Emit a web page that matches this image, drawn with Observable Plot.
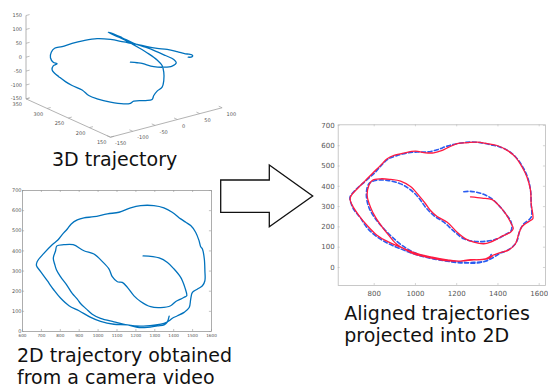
<!DOCTYPE html>
<html><head><meta charset="utf-8">
<script src="https://cdn.jsdelivr.net/npm/d3@7"></script>
<script src="https://cdn.jsdelivr.net/npm/@observablehq/plot@0.6"></script>
<style>
body{margin:0;background:#fff;}
#wrap{position:relative;width:548px;height:390px;overflow:hidden;font-family:"DejaVu Sans",sans-serif;}
.panel{position:absolute;}
.cap{position:absolute;font-size:19px;line-height:22px;color:#111;white-space:nowrap;font-family:"DejaVu Sans",sans-serif;}
</style></head><body><div id="wrap"></div>
<script>
// ---------- Panel 1: 3D trajectory (projected view units; v aligned with z axis units)
const traj3dU = [584,597,600,586,574,544,508,472,436,400,352,304,256,208,166,130,103,91,88,98,112,98,94,103,118,142,166,202,226,256,304,352,376,388,430,454,460,472,490,496,496,490,472,442,406,370,334,296,310,346,388,430,466,502,532,541,526,496,460,430,418,400,376];
const traj3dV = [0,1,6,11,12,20,28,32,38,46,55,64,67,60,50,38,32,18,-2,-18,-24,-31,-46,-58,-70,-88,-102,-118,-138,-150,-162,-168,-166,-158,-156,-152,-138,-122,-108,-84,-54,-30,-10,12,34,54,72,90,86,70,50,36,22,6,-8,-20,-32,-36,-34,-26,-22,-20,-18];
const axis3dXTicks = [-150,-100,-50,0,50,100];
const axis3dYTicks = [150,200,250,300,350];
const axis3dZTicks = [-150,-100,-50,0,50,100,150];

// ---------- Panel 2: 2D trajectory from camera video
const cameraX = [1376,1365,1349,1314,1261,1208,1155,1084,1013,961,899,846,801,766,731,695,674,678,713,757,787,810,837,858,890,925,978,1049,1111,1172,1225,1295,1348,1392,1437,1464,1490,1516,1534,1543,1552,1562,1565,1565,1552,1526,1499,1490,1482,1455,1420,1393,1376,1349,1296,1225,1155,1084,1013,969,939,907,890,863,837,801,780,770,763,775,782,819,868,925,978,1022,1058,1075,1102,1128,1155,1190,1225,1278,1331,1384,1411,1437,1459,1469,1459,1446,1437,1402,1367,1323,1238];
const cameraY = [76,45,33,28,20,20,33,36,50,70,103,128,166,206,252,299,327,348,388,431,454,481,509,534,554,564,570,584,592,614,625,625,614,592,559,542,526,493,451,421,410,360,302,252,227,211,194,161,119,95,78,66,53,40,32,27,33,48,65,86,111,139,161,189,227,272,305,335,365,401,425,431,431,401,385,348,310,272,247,244,219,177,149,123,119,128,149,161,172,177,219,252,269,310,343,365,375];
const cameraXTicks = [600,700,800,900,1000,1100,1200,1300,1400,1500,1600];
const cameraYTicks = [0,100,200,300,400,500,600,700];

// ---------- Panel 3: aligned trajectories projected into 2D
const alignedRedX = [1372,1348,1283,1218,1154,1081,1000,928,871,815,766,726,694,683,689,718,758,790,831,863,896,944,1000,1049,1089,1130,1162,1202,1251,1299,1348,1396,1445,1485,1517,1541,1558,1561,1569,1558,1517,1501,1485,1453,1404,1372,1340,1299,1267,1202,1121,1057,992,944,903,871,839,806,782,766,774,790,831,879,928,976,1016,1049,1073,1105,1154,1202,1243,1283,1331,1364,1396,1428,1461,1474,1461,1437,1404,1372,1323,1267];
const alignedRedY = [55,43,38,31,38,51,71,100,125,158,207,256,306,338,355,388,429,462,503,536,552,564,573,565,565,577,593,610,615,618,610,601,577,544,495,445,380,314,240,232,202,166,117,87,71,59,43,38,39,31,38,51,67,92,120,158,199,248,297,355,404,429,437,434,426,399,355,314,281,251,223,174,141,125,117,125,141,158,174,191,223,265,306,334,342,348];
const alignedBlueX = [1367,1348,1283,1218,1154,1081,1000,928,871,815,766,731,702,686,683,710,758,806,839,871,912,960,1008,1057,1105,1154,1202,1267,1315,1364,1412,1453,1493,1525,1546,1558,1561,1561,1525,1506,1493,1477,1445,1412,1380,1340,1283,1235,1154,1073,1000,936,887,847,806,774,762,774,806,863,928,976,1016,1049,1089,1138,1186,1235,1291,1348,1396,1437,1464,1464,1437,1404,1364,1315,1267,1230];
const alignedBlueY = [64,35,25,23,31,44,64,92,117,150,195,248,284,322,347,383,426,470,508,536,552,564,569,569,580,598,610,618,615,605,593,573,536,487,437,380,314,248,215,182,133,108,84,71,51,31,21,26,34,48,71,108,150,191,240,297,363,412,429,429,412,383,343,297,256,223,179,141,128,130,141,163,182,223,265,306,343,366,375,373];
const alignedXTicks = [800,1000,1200,1400,1600];
const alignedYTicks = [0,100,200,300,400,500,600,700];

const captions = [
  {lines:["3D trajectory"], left:52, top:148.4},
  {lines:["2D trajectory obtained","from a camera video"], left:17, top:344.2},
  {lines:["Aligned trajectories","projected into 2D"], left:344.3, top:301.8}
];

const wrap = document.getElementById("wrap");
const rows = (xs, ys) => xs.map((x, i) => ({x, y: ys[i]}));
const plain = d => String(d);
function place(el, left, top) {
  el.classList.add("panel");
  el.style.left = left + "px"; el.style.top = top + "px";
  wrap.appendChild(el);
}
const baseStyle = {fontFamily: "DejaVu Sans, sans-serif", background: "transparent", overflow: "visible"};

// ---- Panel 1 projection of 3D axis frame into view units
function proj(x, y, z) {
  return {
    u: (x + 150) * 1.608 + (350 - y) * 1.52,
    v: -150 + (z + 150) + (x + 150) * 0.424 - (350 - y) * 0.69
  };
}
const axisLines = [
  [proj(-150,350,-150), proj(-150,350,150)],
  [proj(-150,350,-150), proj(-150,150,-150)],
  [proj(-150,150,-150), proj(100,150,-150)]
].map(([a,b]) => ({u1:a.u, v1:a.v, u2:b.u, v2:b.v}));
const xTickPts = axis3dXTicks.map(t => ({t, a: proj(t,150,-150), b: proj(t,158,-150)}));
const yTickPts = axis3dYTicks.map(t => ({t, a: proj(-150,t,-150), b: proj(-142,t,-150)}));
const zTickPts = axis3dZTicks.map(t => ({t, a: proj(-150,350,t), b: proj(-142,350,t)}));
const allTicks = [...xTickPts, ...yTickPts, ...zTickPts];
const axisGray = "#a0a0a0", labelGray = "#555";

const p1 = Plot.plot({
  width: 240, height: 150, marginLeft: 0, marginRight: 0, marginTop: 0, marginBottom: 0,
  x: {domain: [-91.8, 772.2], axis: null},
  y: {domain: [-335.9, 204.1], axis: null},
  style: baseStyle,
  marks: [
    Plot.link(axisLines, {x1: "u1", y1: "v1", x2: "u2", y2: "v2", stroke: axisGray, strokeWidth: 0.8}),
    Plot.link(allTicks, {x1: d => d.a.u, y1: d => d.a.v, x2: d => d.b.u, y2: d => d.b.v, stroke: axisGray, strokeWidth: 0.7}),
    Plot.text(zTickPts, {x: d => d.a.u, y: d => d.a.v, text: d => String(d.t), textAnchor: "end", dx: -4, fontSize: 5, fill: labelGray}),
    Plot.text(yTickPts, {x: d => d.a.u, y: d => d.a.v, text: d => String(d.t), textAnchor: "end", dx: -4, dy: 5.6, fontSize: 5, fill: labelGray}),
    Plot.text(xTickPts, {x: d => d.a.u, y: d => d.a.v, text: d => String(d.t), textAnchor: "start", dx: 4.5, dy: 6.5, fontSize: 5, fill: labelGray}),
    Plot.line(rows(traj3dU, traj3dV), {x: "x", y: "y", stroke: "#0072BD", strokeWidth: 1.3, curve: "catmull-rom"})
  ]
});
place(p1, 0, 0);

// ---- Panel 2
const p2 = Plot.plot({
  width: 220, height: 160, marginLeft: 22, marginRight: 9, marginTop: 10, marginBottom: 9,
  x: {domain: [600, 1600]},
  y: {domain: [0, 700]},
  style: baseStyle,
  marks: [
    Plot.frame({stroke: "#999", strokeWidth: 0.8}),
    Plot.ruleX(cameraXTicks, {x: d => d, y1: 0, y2: 10, stroke: "#999", strokeWidth: 0.6}),
    Plot.ruleX(cameraXTicks, {x: d => d, y1: 690, y2: 700, stroke: "#999", strokeWidth: 0.6}),
    Plot.ruleY(cameraYTicks, {y: d => d, x1: 600, x2: 611, stroke: "#999", strokeWidth: 0.6}),
    Plot.ruleY(cameraYTicks, {y: d => d, x1: 1589, x2: 1600, stroke: "#999", strokeWidth: 0.6}),
    Plot.axisX({ticks: cameraXTicks, tickFormat: plain, tickSize: 0, tickPadding: 2.5, fontSize: 4.2, fill: labelGray, label: null}),
    Plot.axisY({ticks: cameraYTicks, tickFormat: plain, tickSize: 0, tickPadding: 1, fontSize: 5, fill: labelGray, label: null}),
    Plot.line(rows(cameraX, cameraY), {x: "x", y: "y", stroke: "#0072BD", strokeWidth: 1.3, curve: "catmull-rom"})
  ]
});
place(p2, 0, 180);

// ---- Panel 3
const p3 = Plot.plot({
  width: 248, height: 190, marginLeft: 37.7, marginRight: 3, marginTop: 14.3, marginBottom: 15,
  x: {domain: [625.5, 1630.5]},
  y: {domain: [-88.7, 703]},
  style: baseStyle,
  marks: [
    Plot.frame({stroke: "#bbb", strokeWidth: 0.8}),
    Plot.ruleX(alignedXTicks, {x: d => d, y1: -88.7, y2: -78.7, stroke: "#bbb", strokeWidth: 0.6}),
    Plot.ruleX(alignedXTicks, {x: d => d, y1: 693, y2: 703, stroke: "#bbb", strokeWidth: 0.6}),
    Plot.ruleY(alignedYTicks, {y: d => d, x1: 625.5, x2: 635.5, stroke: "#bbb", strokeWidth: 0.6}),
    Plot.ruleY(alignedYTicks, {y: d => d, x1: 1620.5, x2: 1630.5, stroke: "#bbb", strokeWidth: 0.6}),
    Plot.axisX({ticks: alignedXTicks, tickFormat: plain, tickSize: 0, tickPadding: 5.2, fontSize: 7, fill: labelGray, label: null}),
    Plot.axisY({ticks: alignedYTicks, tickFormat: plain, tickSize: 0, tickPadding: 3.5, fontSize: 7, fill: labelGray, label: null}),
    Plot.line(rows(alignedBlueX, alignedBlueY), {x: "x", y: "y", stroke: "#2a5cf0", strokeWidth: 1.6, strokeDasharray: "4,2.5", curve: "catmull-rom"}),
    Plot.line(rows(alignedRedX, alignedRedY), {x: "x", y: "y", stroke: "#ff1a40", strokeWidth: 1.3, curve: "catmull-rom"})
  ]
});
place(p3, 300, 110);

// ---- Arrow between panels
const arrow = document.createElementNS("http://www.w3.org/2000/svg", "svg");
arrow.setAttribute("width", 548); arrow.setAttribute("height", 390);
arrow.style.position = "absolute"; arrow.style.left = "0"; arrow.style.top = "0";
const poly = document.createElementNS("http://www.w3.org/2000/svg", "polygon");
poly.setAttribute("points", "220.7,180 269.3,180 269.3,165 312.7,196 269.3,226.7 269.3,212.3 220.7,212.3");
poly.setAttribute("fill", "#fff"); poly.setAttribute("stroke", "#111"); poly.setAttribute("stroke-width", "1.3");
arrow.appendChild(poly);
wrap.appendChild(arrow);

// ---- Captions
for (const c of captions) {
  const d = document.createElement("div");
  d.className = "cap";
  d.style.left = c.left + "px"; d.style.top = c.top + "px";
  d.innerHTML = c.lines.join("<br>");
  wrap.appendChild(d);
}
</script>
</body></html>
